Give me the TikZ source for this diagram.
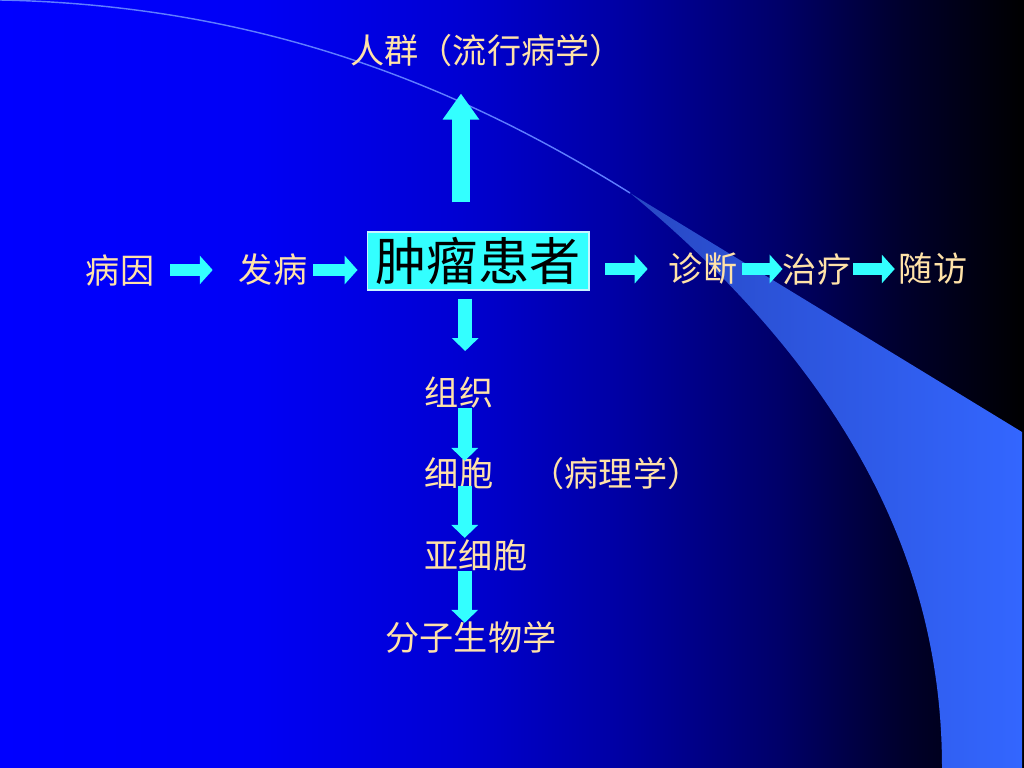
\documentclass[tikz,border=0pt]{standalone}
\usepackage{fontspec}
\newfontfamily\cjk{Noto Sans CJK SC}
\usetikzlibrary{arrows.meta}

\definecolor{bgA}{RGB}{0,0,255}
\definecolor{bgB}{RGB}{0,0,245}
\definecolor{bgC}{RGB}{0,0,210}
\definecolor{bgD}{RGB}{0,0,165}
\definecolor{bgE}{RGB}{0,0,105}
\definecolor{bgF}{RGB}{0,0,45}
\definecolor{bgG}{RGB}{0,0,0}
\definecolor{ribbondark}{RGB}{40,72,195}
\definecolor{ribbonblue}{RGB}{51,102,255}
\definecolor{ribbonline}{RGB}{95,125,255}
\definecolor{termtext}{RGB}{255,226,168}
\definecolor{flowcyan}{RGB}{51,255,255}
\definecolor{boxline}{RGB}{200,245,255}

% the path is mapped onto 25bp..75bp of the shading
\pgfdeclarehorizontalshading{slidebg}{100bp}{color(0bp)=(bgA); color(25bp)=(bgA); color(37.5bp)=(bgB);
  color(47.5bp)=(bgC); color(55bp)=(bgD); color(63bp)=(bgE); color(69bp)=(bgF); color(75bp)=(bgG); color(100bp)=(bgG)}

\begin{document}
\begin{tikzpicture}[x=0.703125pt, y=-0.703125pt,
  term/.style={text=termtext, font=\cjk\fontsize{24pt}{28pt}\selectfont, inner sep=0pt},
  hflow/.style={draw=flowcyan, line width=8.8pt, -{Triangle[length=9.1pt,width=19.7pt]}},
  vflow/.style={draw=flowcyan, line width=9.8pt, -{Triangle[length=9.1pt,width=18.3pt]}}]
\shade[shading=slidebg] (0,0) rectangle (1024,768);
\useasboundingbox (0,0) rectangle (1024,768);
\shade[left color=ribbondark, right color=ribbonblue] (630,193) -- (1022,432) -- (1022,768) -- (942,768)
  .. controls (942,600) and (880,400) .. (630,193) -- cycle;
\draw[ribbonline, line width=1pt] (0,0) .. controls (250,5) and (450,80) .. (630,193);

\node[term] (crowd) at (487,51) {人群（流行病学）};
\node[term] (cause) at (120,270) {病因};
\node[term] (onset) at (273,270) {发病};
\node[draw=boxline, line width=0.8pt, fill=flowcyan, minimum width=156pt, minimum height=40.8pt, inner sep=0pt,
  font=\cjk\fontsize{36pt}{40pt}\selectfont] (patient) at (478,261) {肿瘤患者};
\node[term] (diag) at (703,269) {诊断};
\node[term] (treat) at (817,269) {治疗};
\node[term] (follow) at (933,269) {随访};
\node[term] (tissue) at (459,393) {组织};
\node[term] (cell) at (459,474) {细胞};
\node[term] (patho) at (616,474) {（病理学）};
\node[term] (subcell) at (476,556) {亚细胞};
\node[term] (molec) at (471,637) {分子生物学};

\draw[hflow, shorten <=11.2pt, shorten >=18.2pt] (cause) -- (onset);
\draw[hflow, shorten <=4.1pt, shorten >=6.3pt] (onset) -- (onset -| patient.west);
\draw[hflow, shorten <=11.2pt, shorten >=14.7pt] (patient.east |- diag) -- (diag);
\draw[hflow, shorten <=3.4pt] (diag) -- (treat);
\draw[hflow, shorten <=1.3pt, shorten >=2.7pt] (treat) -- (follow);

\draw[draw=flowcyan, line width=12.7pt, -{Triangle[length=18.3pt,width=24.6pt]}, shorten <=20.4pt, shorten >=18.3pt]
  ([xshift=-12pt]patient.north) -- ([xshift=-12pt]patient.north |- crowd.south);
\draw[vflow, shorten <=5.6pt, shorten >=18.3pt] ([xshift=-9pt]patient.south) -- ([xshift=-9pt]patient.south |- tissue.north);
\draw[vflow, shorten <=-0.7pt, shorten >=-2.1pt] ([xshift=4pt]tissue.south) -- ([xshift=4pt]tissue.south |- cell.north);
\draw[vflow, shorten <=-2.8pt, shorten >=1.4pt] ([xshift=4pt]cell.south) -- ([xshift=4pt]cell.south |- subcell.north);
\draw[vflow, shorten <=-0.7pt, shorten >=-1.4pt] ([xshift=4pt]cell.south |- subcell.south) -- ([xshift=4pt]cell.south |- molec.north);
\end{tikzpicture}
\end{document}
